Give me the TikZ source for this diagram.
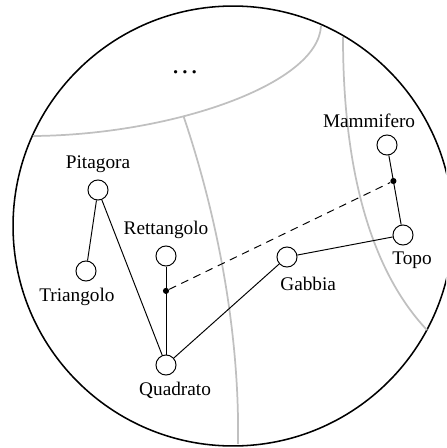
\documentclass[tikz,border=0pt]{standalone}
\usepackage{fontspec}
\setmainfont{Liberation Serif}
\usetikzlibrary{calc}
\definecolor{grigioC}{RGB}{192,192,192}
\tikzset{
  vertice/.style={circle, draw=black, fill=white, line width=0.5pt, inner sep=0pt, minimum size=10.4pt},
  punto/.style={circle, fill=black, inner sep=0pt, minimum size=3.2pt},
  arco/.style={line width=0.5pt, draw=black},
  legame/.style={line width=0.5pt, draw=black, dash pattern=on 4pt off 3pt},
  bordo/.style={line width=0.9pt, draw=grigioC},
}

\begin{document}
\begin{tikzpicture}[x=0.01823cm, y=-0.01823cm]
\useasboundingbox (0,0) rectangle (446,448);
\clip (0,0) rectangle (446,448);
\draw[line width=0.8pt] (233,226) circle[radius=4.011cm];
% regioni
\draw[bordo] (33,136) .. controls (170,135) and (318,85) .. (321,26) coordinate[pos=0.375] (giunto);
\draw[bordo] (giunto) .. controls (212,200) and (240,320) .. (238,444);
\draw[bordo] (343,37) .. controls (343,180) and (375,275) .. (427,330);
\node (altro) at (185,72) {\Large\dots};
% concetti
\node[vertice, label={above:Pitagora}] (pitagora) at (98,190) {};
\node[vertice, label={[xshift=-4.7pt]below:Triangolo}] (triangolo) at (86,271) {};
\node[vertice, label={above:Rettangolo}] (rettangolo) at (166,256) {};
\node[vertice, label={[xshift=4.7pt]below:Quadrato}] (quadrato) at (166,365) {};
\node[vertice, label={[xshift=11pt,yshift=-1.5pt]below:Gabbia}] (gabbia) at (287,257) {};
\node[vertice, label={[xshift=4.7pt]below:Topo}] (topo) at (403,235) {};
\node[vertice, label={[xshift=-9.3pt]above:Mammifero}] (mammifero) at (387,145) {};
\draw[arco] (pitagora) -- (triangolo);
\draw[arco] (pitagora) -- (quadrato);
\draw[arco] (rettangolo) -- (quadrato);
\draw[arco] (quadrato) -- (gabbia);
\draw[arco] (gabbia) -- (topo);
\draw[arco] (mammifero) -- (topo);
\node[punto] (p1) at ($(rettangolo)!0.32!(quadrato)$) {};
\node[punto] (p2) at ($(mammifero)!0.4!(topo)$) {};
\draw[legame] (p1) -- (p2);
\end{tikzpicture}
\end{document}
